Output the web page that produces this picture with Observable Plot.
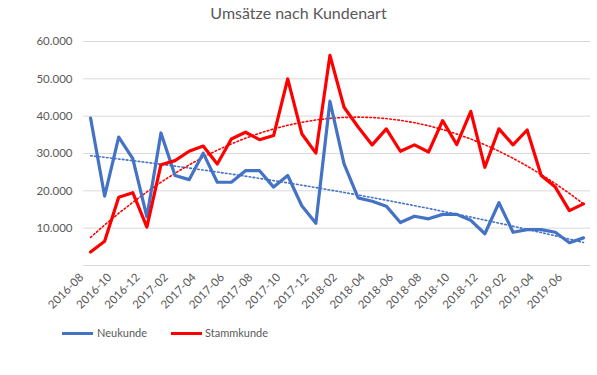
<!DOCTYPE html>
<html><head><meta charset="utf-8">
<script src="https://cdn.jsdelivr.net/npm/d3@7"></script>
<script src="https://cdn.jsdelivr.net/npm/@observablehq/plot@0.6"></script>
<style>
body{margin:0;background:#fff;font-family:Lato,"Noto Sans",sans-serif;}
#wrap{position:relative;width:597px;height:375px;overflow:hidden;}
#title{position:absolute;top:3px;left:0;width:597px;text-align:center;font-size:16px;color:#595959;}
#legend{position:absolute;top:325px;left:0;width:597px;height:16px;font-size:11px;color:#595959;}
.sw{position:absolute;top:7px;width:31px;height:3px;}
.lt{position:absolute;top:0;line-height:16px;}
</style></head>
<body><div id="wrap"><div id="chart"></div><div id="title">Umsätze nach Kundenart</div>
<div id="legend"><span class="sw" style="left:62px;background:#4472c4"></span><span class="lt" style="left:97px">Neukunde</span><span class="sw" style="left:171px;background:#ff0000"></span><span class="lt" style="left:205px">Stammkunde</span></div></div>
<script>
const months = ["2016-08","2016-09","2016-10","2016-11","2016-12","2017-01","2017-02","2017-03","2017-04","2017-05","2017-06","2017-07","2017-08","2017-09","2017-10","2017-11","2017-12","2018-01","2018-02","2018-03","2018-04","2018-05","2018-06","2018-07","2018-08","2018-09","2018-10","2018-11","2018-12","2019-01","2019-02","2019-03","2019-04","2019-05","2019-06","2019-07"];
const neukunde = [39500,18600,34400,28600,13000,35500,24100,23000,30100,22300,22300,25400,25400,21000,24100,16000,11300,44000,27200,18100,17200,15900,11500,13200,12500,13700,13700,12100,8500,16800,8900,9600,9600,8900,6100,7400];
const stammkunde = [3600,6500,18300,19500,10300,27000,28100,30600,32000,27200,33900,35700,33700,34800,50000,35300,30100,56300,42400,37100,32300,36600,30600,32300,30400,38800,32400,41300,26300,36600,32300,36300,24100,21000,14700,16500];
const yTicks = [10000,20000,30000,40000,50000,60000];

// least-squares polynomial trend (as Excel trendline)
function polyfit(ys, order){
  const n = order+1, A = Array.from({length:n},()=>Array(n+1).fill(0));
  ys.forEach((y,i)=>{const x=i+1;for(let r=0;r<n;r++){for(let c=0;c<n;c++)A[r][c]+=Math.pow(x,r+c);A[r][n]+=y*Math.pow(x,r);}});
  for(let k=0;k<n;k++){let p=k;for(let r=k+1;r<n;r++)if(Math.abs(A[r][k])>Math.abs(A[p][k]))p=r;[A[k],A[p]]=[A[p],A[k]];
    for(let r=0;r<n;r++){if(r===k)continue;const f=A[r][k]/A[k][k];for(let c=k;c<=n;c++)A[r][c]-=f*A[k][c];}}
  const coef=A.map((row,k)=>row[n]/row[k]);
  return ys.map((_,i)=>coef.reduce((s,c,k)=>s+c*Math.pow(i+1,k),0));
}
const neuTrend = polyfit(neukunde,2);
const stammTrend = polyfit(stammkunde,2);

const de = d3.formatLocale({decimal:",",thousands:".",grouping:[3],currency:["","€"]});
const fmt = de.format(",.0f");
const idx = months.map((_,i)=>i);

const chart = Plot.plot({
  width:597, height:375, marginTop:41, marginBottom:110, marginLeft:83, marginRight:7,
  style:{fontFamily:"Lato, 'Noto Sans', sans-serif", color:"#595959", background:"white", overflow:"visible"},
  x:{type:"linear", domain:[-0.5,35.5]},
  y:{domain:[0,60000]},
  marks:[
    Plot.ruleY([0,...yTicks],{stroke:"#d9d9d9",strokeWidth:1}),
    Plot.axisY({ticks:yTicks, tickFormat:fmt, tickSize:0, tickPadding:11, fontSize:11.5, label:null}),
    Plot.axisX({ticks:idx.filter(i=>i%2===0), tickFormat:i=>months[i], tickRotate:-45, tickSize:0, tickPadding:10, dx:-9, fontSize:11.5, label:null}),
    Plot.line(neuTrend,{x:(d,i)=>i,y:d=>d,stroke:"#4472c4",strokeWidth:1.6,strokeDasharray:"1.6,2.4",strokeLinecap:"round"}),
    Plot.line(stammTrend,{x:(d,i)=>i,y:d=>d,stroke:"#ff0000",strokeWidth:1.6,strokeDasharray:"1.6,2.4",strokeLinecap:"round"}),
    Plot.line(neukunde,{x:(d,i)=>i,y:d=>d,stroke:"#4472c4",strokeWidth:3.2,strokeLinejoin:"round"}),
    Plot.line(stammkunde,{x:(d,i)=>i,y:d=>d,stroke:"#ff0000",strokeWidth:3.2,strokeLinejoin:"round"})
  ]
});
document.getElementById("chart").append(chart);
</script></body></html>
